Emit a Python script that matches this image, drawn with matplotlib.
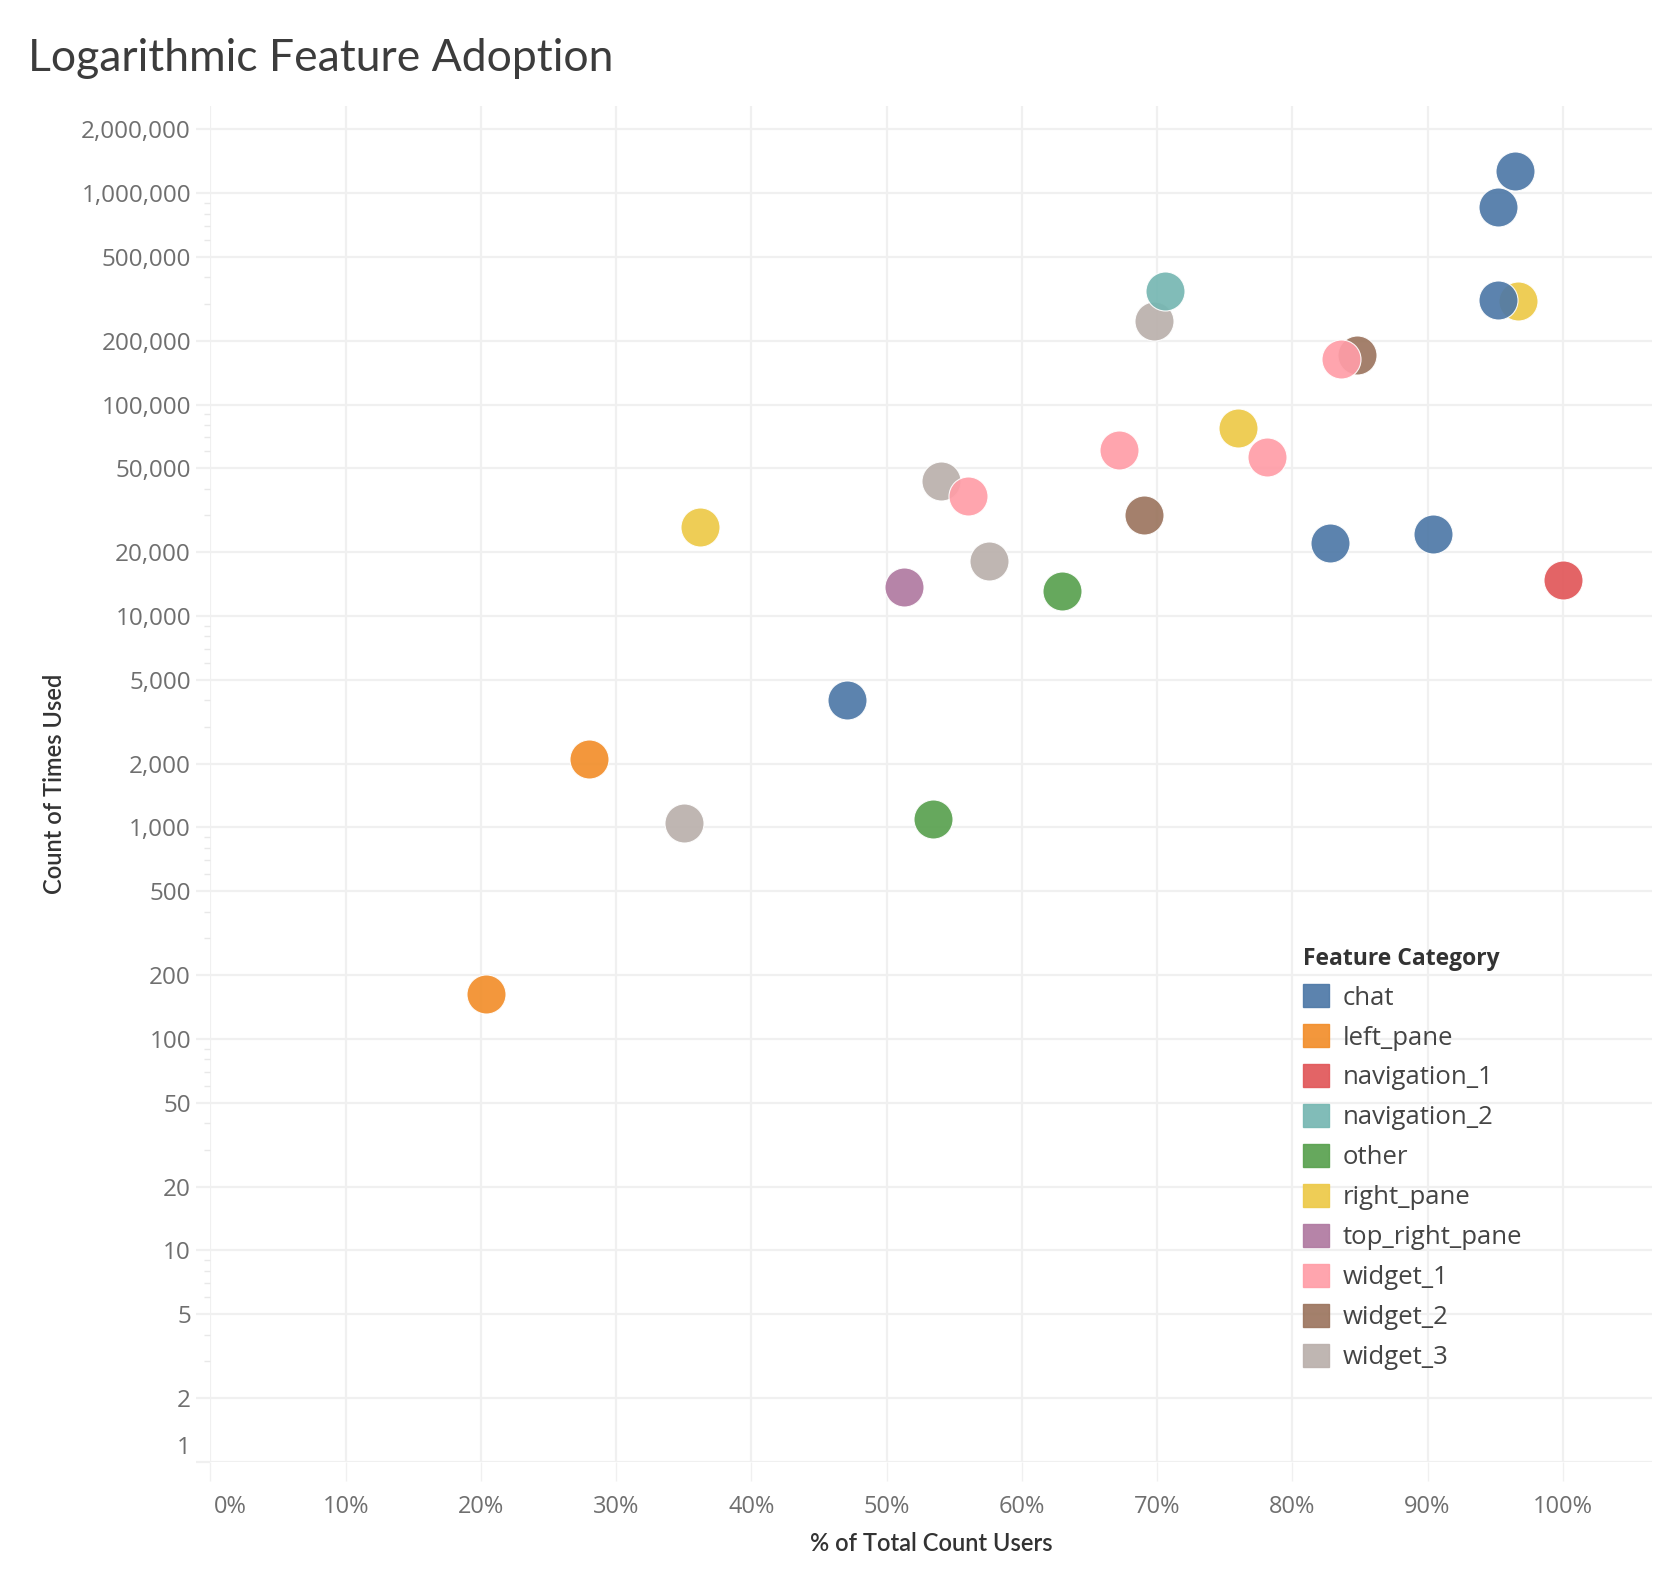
import numpy as np
import matplotlib.pyplot as plt
from matplotlib.ticker import FixedLocator, LogLocator, NullFormatter
import matplotlib.transforms as mtransforms

categories = ["chat", "left_pane", "navigation_1", "navigation_2", "other",
              "right_pane", "top_right_pane", "widget_1", "widget_2", "widget_3"]
colors = ["#4e79a7", "#f28e2b", "#e15759", "#76b7b2", "#59a14f",
          "#edc948", "#b07aa1", "#ff9da7", "#9c755f", "#bab0ac"]

# % of users, count of uses, category (in draw order)
pct = [96.7, 69.8, 84.8, 69.0, 54.0, 57.6, 35.0, 36.2, 76.0,
       96.5, 95.2, 95.2, 90.4, 82.8, 47.1,
       70.6, 83.6, 67.2, 78.1, 56.0,
       51.3, 63.0, 53.4, 100.0, 28.0, 20.4]
count = [308000, 249000, 172000, 30000, 43500, 18300, 1050, 26400, 77500,
         1276000, 861000, 311000, 24400, 22200, 4000,
         345000, 164000, 60800, 56700, 37000,
         13700, 13200, 1100, 14800, 2100, 163]
cat = ["right_pane", "widget_3", "widget_2", "widget_2", "widget_3", "widget_3", "widget_3", "right_pane", "right_pane",
       "chat", "chat", "chat", "chat", "chat", "chat",
       "navigation_2", "widget_1", "widget_1", "widget_1", "widget_1",
       "top_right_pane", "other", "other", "navigation_1", "left_pane", "left_pane"]

cmap = dict(zip(categories, colors))
plt.rcParams['font.family'] = ['Lato', 'DejaVu Sans']
tick_font = ['Open Sans', 'DejaVu Sans']

fig = plt.figure(figsize=(16.66, 15.82), dpi=100)
ax = fig.add_axes([0.1263, 0.0759, 0.8653, 0.8571])

for i in range(len(pct)):
    ax.scatter(pct[i] / 100, count[i], s=790, color=cmap[cat[i]], alpha=0.92,
               edgecolors="white", linewidths=0.8, zorder=3)

ax.set_yscale("log")
ax.set_ylim(1, 2.58e6)
ax.set_xlim(0, 1.066)

yt = [1, 2, 5, 10, 20, 50, 100, 200, 500, 1000, 2000, 5000, 10000, 20000,
      50000, 100000, 200000, 500000, 1000000, 2000000]
ax.yaxis.set_major_locator(FixedLocator(yt))
ax.set_yticklabels([f"{v:,}" for v in yt], family=tick_font)
ax.yaxis.set_minor_locator(LogLocator(base=10, subs=np.arange(2, 10)))
ax.yaxis.set_minor_formatter(NullFormatter())

xt = np.arange(0, 1.01, 0.1)
ax.set_xticks(xt)
ax.set_xticklabels([f"{int(round(v*100))}%" for v in xt], family=tick_font)

ax.grid(True, which="major", color="#f0f0f0", linewidth=1.6, zorder=0)
ax.set_axisbelow(True)
for s in ax.spines.values():
    s.set_visible(False)

ax.tick_params(axis="y", which="major", length=10, color="#f0f0f0", width=1.6,
               labelsize=17.5, labelcolor="#6f6f6f", pad=4)
ax.tick_params(axis="y", which="minor", length=4, color="#e8e8e8", width=1)
ax.tick_params(axis="x", which="major", length=14, color="#f0f0f0", width=1,
               labelsize=17, labelcolor="#6f6f6f", pad=10, direction="out")

# shift edge labels inward like the original
lab0 = ax.get_xticklabels()[0]
lab0.set_transform(lab0.get_transform() + mtransforms.ScaledTranslation(0.2, 0, fig.dpi_scale_trans))
laby = ax.get_yticklabels()[0]
laby.set_transform(laby.get_transform() + mtransforms.ScaledTranslation(0, 0.17, fig.dpi_scale_trans))

ax.set_xlabel("% of Total Count Users", fontsize=17, color="#333333", fontweight="semibold")
ax.set_ylabel("Count of Times Used", fontsize=17, color="#333333", fontweight="semibold")
ax.xaxis.set_label_coords(0.5, -0.052)
ax.yaxis.set_label_coords(-0.100, 0.5)

fig.text(0.017, 0.963, "Logarithmic Feature Adoption", fontsize=32, color="#3c3c3c",
         ha="left", va="center", fontweight="normal")

handles = [plt.Rectangle((0, 0), 1, 1, color=c, alpha=0.92) for c in colors]
leg = ax.legend(handles, categories, title="Feature Category", loc="upper left",
                bbox_to_anchor=(0.742, 0.397), frameon=False,
                prop={'family': tick_font, 'size': 18.5},
                title_fontproperties={'family': tick_font, 'size': 16.5, 'weight': 'bold'},
                handlelength=1.0, handleheight=1.0,
                handletextpad=0.55, labelspacing=0.53, alignment="left")
leg.get_title().set_color("#333333")
for t in leg.get_texts():
    t.set_color("#444444")

fig.savefig("out.png", dpi=100)
